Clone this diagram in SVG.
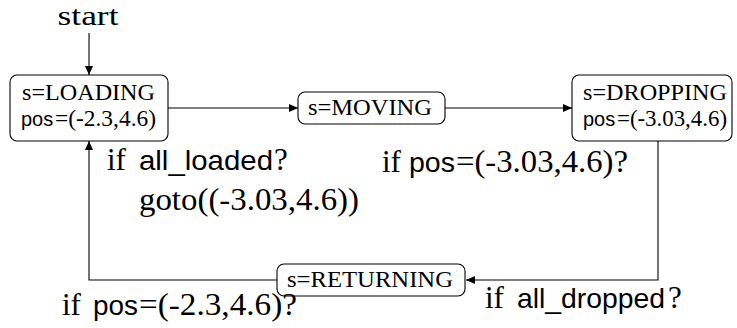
<svg xmlns="http://www.w3.org/2000/svg" width="737" height="328" viewBox="0 0 737 328">
<defs>
<style>
.box{fill:#fff;stroke:#000;stroke-width:1.1}
.edge{fill:none;stroke:#000;stroke-width:1.1}
.rm{font-family:"Liberation Serif","Times New Roman",serif;fill:#000}
.sf{font-family:"Liberation Sans",Arial,sans-serif;fill:#000}
.n{font-size:23px}
.ns{font-size:20px}
.l{font-size:31px}
.ls{font-size:28px}
</style>
<marker id="ah" markerUnits="userSpaceOnUse" markerWidth="10" markerHeight="8" refX="9" refY="4" orient="auto">
<path d="M0,0 L9,4 L0,8 Z" fill="#000"/>
</marker>
</defs>
<rect width="737" height="328" fill="#fff"/>
<g id="connectors">
<path class="edge" d="M89,33 L89,75" marker-end="url(#ah)"/>
<path class="edge" d="M168,108 L298,108" marker-end="url(#ah)"/>
<path class="edge" d="M445,108 L572,108" marker-end="url(#ah)"/>
<path class="edge" d="M658,141 L658,280 L466,280" marker-end="url(#ah)"/>
<path class="edge" d="M277,280 L89,280 L89,141" marker-end="url(#ah)"/>
</g>
<g id="start">
<text class="rm" x="88" y="25" font-size="28" text-anchor="middle" textLength="61" lengthAdjust="spacingAndGlyphs">start</text>
</g>
<g id="loading">
<rect class="box" x="10" y="75" width="158" height="66" rx="7"/>
<text class="rm n" x="22" y="100" textLength="133" lengthAdjust="spacingAndGlyphs">s=LOADING</text>
<text class="sf ns" x="21" y="126">pos</text>
<text class="rm n" x="55" y="126" textLength="101" lengthAdjust="spacingAndGlyphs">=(-2.3,4.6)</text>
</g>
<g id="moving">
<rect class="box" x="298" y="92" width="147" height="32" rx="7"/>
<text class="rm n" x="308" y="115" textLength="124" lengthAdjust="spacingAndGlyphs">s=MOVING</text>
</g>
<g id="dropping">
<rect class="box" x="572" y="75" width="160" height="66" rx="7"/>
<text class="rm n" x="583" y="100" textLength="144" lengthAdjust="spacingAndGlyphs">s=DROPPING</text>
<text class="sf ns" x="583" y="126">pos</text>
<text class="rm n" x="617" y="126" textLength="110" lengthAdjust="spacingAndGlyphs">=(-3.03,4.6)</text>
</g>
<g id="returning">
<rect class="box" x="277" y="264" width="188" height="32" rx="7"/>
<text class="rm n" x="287" y="287" textLength="166" lengthAdjust="spacingAndGlyphs">s=RETURNING</text>
</g>
<g id="labels">
<text class="rm l" x="107" y="170">if</text>
<text class="sf ls" x="139" y="170" textLength="134" lengthAdjust="spacingAndGlyphs">all_loaded</text>
<text class="rm l" x="274" y="170">?</text>
<text class="rm l" x="139" y="210" textLength="220" lengthAdjust="spacingAndGlyphs">goto((-3.03,4.6))</text>
<text class="rm l" x="382" y="172">if</text>
<text class="sf ls" x="409" y="172" textLength="46" lengthAdjust="spacingAndGlyphs">pos</text>
<text class="rm l" x="456" y="172" textLength="172" lengthAdjust="spacingAndGlyphs">=(-3.03,4.6)?</text>
<text class="rm l" x="62" y="315">if</text>
<text class="sf ls" x="93" y="315" textLength="45" lengthAdjust="spacingAndGlyphs">pos</text>
<text class="rm l" x="139" y="315" textLength="158" lengthAdjust="spacingAndGlyphs">=(-2.3,4.6)?</text>
<text class="rm l" x="485" y="308">if</text>
<text class="sf ls" x="517" y="308" textLength="148" lengthAdjust="spacingAndGlyphs">all_dropped</text>
<text class="rm l" x="668" y="308">?</text>
</g>
</svg>
